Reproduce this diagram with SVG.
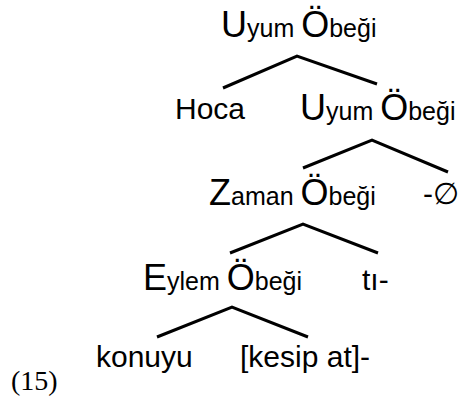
<svg xmlns="http://www.w3.org/2000/svg" width="459" height="396" viewBox="0 0 459 396">
<style>
text{font-family:"Liberation Sans",Arial,sans-serif;fill:#000;}
.s{font-size:25px;}
.c{font-size:36px;}
.w{font-size:30px;}
.num{font-family:"Liberation Serif","Times New Roman",serif;font-size:28px;}
.e{fill:none;stroke:#000;stroke-width:3;stroke-linecap:butt;stroke-linejoin:miter;}
</style>
<rect width="459" height="396" fill="#fff"/>
<g id="edges">
<polyline class="e" points="223,88 297,56 377,84"/>
<polyline class="e" points="303,168 372,140 448,172"/>
<polyline class="e" points="230,253 303,224 378,253"/>
<polyline class="e" points="157,337 232,307 308,337"/>
</g>
<g id="n1"><text x="221" y="37" class="s"><tspan class="c">U</tspan>yum <tspan class="c">Ö</tspan>beği</text></g>
<g id="n2"><text x="175" y="119" class="w">Hoca</text></g>
<g id="n3"><text x="300" y="120" class="s"><tspan class="c">U</tspan>yum <tspan class="c">Ö</tspan>beği</text></g>
<g id="n4"><text x="209" y="205" class="s"><tspan class="c">Z</tspan>aman <tspan class="c">Ö</tspan>beği</text></g>
<g id="n5"><text x="423" y="204" class="w">-∅</text></g>
<g id="n6"><text x="143" y="290" class="s"><tspan class="c">E</tspan>ylem <tspan class="c">Ö</tspan>beği</text></g>
<g id="n7"><text x="362" y="290" class="w">tı-</text></g>
<g id="n8"><text x="96" y="367" class="w">konuyu</text></g>
<g id="n9"><text x="240" y="367" class="w">[kesip at]-</text></g>
<g id="label"><text x="11" y="390" class="num">(15)</text></g>
</svg>
